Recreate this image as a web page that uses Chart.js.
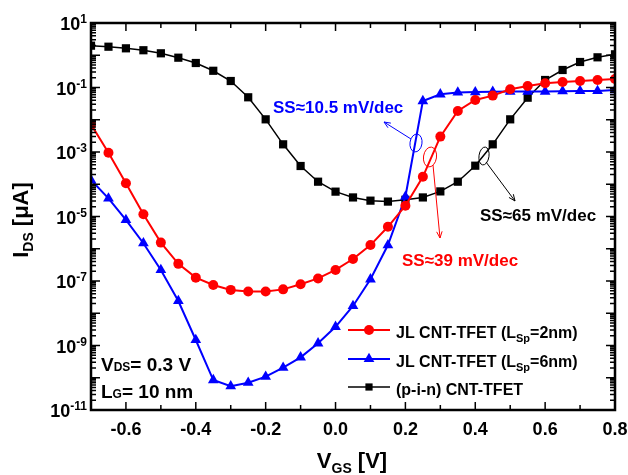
<!DOCTYPE html>
<html>
<head>
<meta charset="utf-8">
<script src="https://cdn.jsdelivr.net/npm/chart.js@4.4.0/dist/chart.umd.min.js"></script>
<style>
  html, body { margin: 0; padding: 0; background: #fff; }
  #wrap { width: 628px; height: 475px; }
</style>
</head>
<body>
<div id="wrap"><canvas id="c" width="628" height="475"></canvas></div>
<script>
// V_GS sweep (V)
const VGS = [-0.7, -0.65, -0.6, -0.55, -0.5, -0.45, -0.4, -0.35, -0.3, -0.25, -0.2, -0.15, -0.1, -0.05,
  0.0, 0.05, 0.1, 0.15, 0.2, 0.25, 0.3, 0.35, 0.4, 0.45, 0.5, 0.55, 0.6, 0.65, 0.7, 0.75, 0.8];

// I_DS (uA)
const ID_JL2 = [7.2e-3, 9.5e-4, 1.07e-4, 1.17e-5, 1.55e-6, 3.4e-7, 1.27e-7, 7.5e-8, 5.3e-8, 4.7e-8, 4.7e-8,
  5.5e-8, 7.9e-8, 1.2e-7, 2.2e-7, 4.8e-7, 1.3e-6, 4.8e-6, 2.16e-5, 1.7e-4, 3.0e-3, 1.87e-2, 4.1e-2, 5.6e-2,
  8.8e-2, 0.111, 0.135, 0.148, 0.159, 0.171, 0.184];
const ID_JL6 = [1.35e-4, 3.66e-5, 7.8e-6, 1.48e-6, 2.2e-7, 2.4e-8, 1.48e-9, 8.5e-11, 5.5e-11, 7.0e-11, 1.08e-10,
  2.05e-10, 4.3e-10, 1.17e-9, 3.8e-9, 1.68e-8, 1.13e-7, 1.3e-6, 4.1e-5, 3.8e-2, 6.15e-2, 0.070, 0.072, 0.074,
  0.075, 0.075, 0.075, 0.077, 0.078, 0.078, 0.083];
const ID_PIN = [1.98, 1.84, 1.64, 1.43, 1.15, 0.84, 0.575, 0.33, 0.159, 0.0497, 0.0103, 1.73e-3, 3.68e-4, 1.2e-4,
  5.9e-5, 3.9e-5, 3.1e-5, 2.9e-5, 3.3e-5, 3.9e-5, 6.0e-5, 1.2e-4, 3.76e-4, 1.73e-3, 1.03e-2, 4.83e-2, 0.171,
  0.349, 0.618, 0.863, 1.07];

const X_TICKS = [-0.6, -0.4, -0.2, 0.0, 0.2, 0.4, 0.6, 0.8];
const Y_LABEL_EXP = [1, -1, -3, -5, -7, -9, -11];

const RED = "#ff0000", BLUE = "#0000ff", BLACK = "#000000";
const FONT = "'Liberation Sans', Arial, sans-serif";

const pts = (ys) => VGS.map((v, i) => ({ x: v, y: ys[i] }));

// text made of pieces with different sizes / offsets (sub- and superscripts)
function rich(ctx, parts, x, y, align, color) {
  let w = 0;
  parts.forEach((p) => { ctx.font = "bold " + p.s + "px " + FONT; p.w = ctx.measureText(p.t).width; w += p.w; });
  let cx = align === "right" ? x - w : align === "center" ? x - w / 2 : x;
  ctx.textAlign = "left"; ctx.textBaseline = "alphabetic"; ctx.fillStyle = color || BLACK;
  parts.forEach((p) => { ctx.font = "bold " + p.s + "px " + FONT; ctx.fillText(p.t, cx, y + (p.dy || 0)); cx += p.w; });
}

function arrow(ctx, x1, y1, x2, y2, color) {
  const a = Math.atan2(y2 - y1, x2 - x1), h = 7, s = 0.4;
  ctx.strokeStyle = color; ctx.lineWidth = 1;
  ctx.beginPath(); ctx.moveTo(x1, y1); ctx.lineTo(x2, y2);
  ctx.moveTo(x2 - h * Math.cos(a - s), y2 - h * Math.sin(a - s)); ctx.lineTo(x2, y2);
  ctx.lineTo(x2 - h * Math.cos(a + s), y2 - h * Math.sin(a + s));
  ctx.stroke();
}

function ellipse(ctx, cx, cy, rx, ry, color) {
  ctx.strokeStyle = color; ctx.lineWidth = 1;
  ctx.beginPath(); ctx.ellipse(cx, cy, rx, ry, 0.15, 0, Math.PI * 2); ctx.stroke();
}

function marker(ctx, kind, x, y, color) {
  ctx.fillStyle = color;
  ctx.beginPath();
  if (kind === "circle") ctx.arc(x, y, 5, 0, Math.PI * 2);
  else if (kind === "triangle") { const r = 6.2; ctx.moveTo(x, y - r); ctx.lineTo(x + r * 0.866, y + r / 2); ctx.lineTo(x - r * 0.866, y + r / 2); ctx.closePath(); }
  else ctx.rect(x - 3.6, y - 3.6, 7.2, 7.2);
  ctx.fill();
}

const decor = {
  id: "decor",
  afterDatasetsDraw(chart) {
    const ctx = chart.ctx, a = chart.chartArea, xs = chart.scales.x, ys = chart.scales.y;
    ctx.save();

    // annotations: ellipses + arrows + SS texts
    ellipse(ctx, 416, 143, 6, 9, BLUE);
    arrow(ctx, 411, 139, 384, 122, BLUE);
    ellipse(ctx, 430, 157, 6.5, 10, RED);
    arrow(ctx, 433, 165, 440, 238, RED);
    ellipse(ctx, 484, 156, 5, 9, BLACK);
    arrow(ctx, 486, 162, 515, 201, BLACK);
    rich(ctx, [{ t: "SS\u224810.5 mV/dec", s: 17 }], 273, 113, "left", BLUE);
    rich(ctx, [{ t: "SS\u224839 mV/dec", s: 17 }], 402, 266, "left", RED);
    rich(ctx, [{ t: "SS\u224865 mV/dec", s: 17 }], 480, 221, "left", BLACK);

    // V_DS / L_G note
    rich(ctx, [{ t: "V", s: 19 }, { t: "DS", s: 12 }, { t: "= 0.3 V", s: 19 }], 101, 371, "left");
    rich(ctx, [{ t: "L", s: 19 }, { t: "G", s: 12 }, { t: "= 10 nm", s: 19 }], 101, 398, "left");

    // legend
    const LEG = [
      { c: RED, k: "circle", y: 330, parts: [{ t: "JL CNT-TFET (L", s: 16 }, { t: "Sp", s: 11, dy: 4 }, { t: "=2nm)", s: 16 }] },
      { c: BLUE, k: "triangle", y: 359, parts: [{ t: "JL CNT-TFET (L", s: 16 }, { t: "Sp", s: 11, dy: 4 }, { t: "=6nm)", s: 16 }] },
      { c: BLACK, k: "rect", y: 387, parts: [{ t: "(p-i-n) CNT-TFET", s: 16 }] },
    ];
    LEG.forEach((l) => {
      ctx.strokeStyle = l.c; ctx.lineWidth = l.c === BLACK ? 1.5 : 2;
      ctx.beginPath(); ctx.moveTo(348, l.y); ctx.lineTo(390, l.y); ctx.stroke();
      marker(ctx, l.k, 369, l.y, l.c);
      rich(ctx, l.parts, 396, l.y + 8, "left");
    });

    // frame
    ctx.strokeStyle = BLACK; ctx.lineWidth = 2.5;
    ctx.strokeRect(a.left, a.top, a.right - a.left, a.bottom - a.top);

    // inward ticks on all four sides
    ctx.lineWidth = 1.5;
    ctx.beginPath();
    for (let i = -6; i <= 8; i++) {
      const px = xs.getPixelForValue(i / 10), len = i % 2 === 0 ? 8 : 5;
      ctx.moveTo(px, a.bottom); ctx.lineTo(px, a.bottom - len);
      ctx.moveTo(px, a.top); ctx.lineTo(px, a.top + len);
    }
    for (let e = -11; e <= 1; e++) {
      const py = ys.getPixelForValue(Math.pow(10, e));
      ctx.moveTo(a.left, py); ctx.lineTo(a.left + 9, py);
      ctx.moveTo(a.right, py); ctx.lineTo(a.right - 9, py);
      if (e === 1) continue;
      for (let k = 2; k <= 9; k++) {
        const pm = ys.getPixelForValue(k * Math.pow(10, e));
        ctx.moveTo(a.left, pm); ctx.lineTo(a.left + 5, pm);
        ctx.moveTo(a.right, pm); ctx.lineTo(a.right - 5, pm);
      }
    }
    ctx.stroke();

    // tick labels
    X_TICKS.forEach((v) => {
      ctx.font = "bold 18px " + FONT; ctx.fillStyle = BLACK;
      ctx.textAlign = "center"; ctx.textBaseline = "alphabetic";
      ctx.fillText(v.toFixed(1), xs.getPixelForValue(v), 435);
    });
    Y_LABEL_EXP.forEach((e) => {
      const py = ys.getPixelForValue(Math.pow(10, e));
      rich(ctx, [{ t: "10", s: 18 }, { t: String(e), s: 12, dy: -7 }], 87, py + 7, "right");
    });

    // axis titles
    rich(ctx, [{ t: "V", s: 22 }, { t: "GS", s: 14, dy: 5 }, { t: " [V]", s: 22 }], 352, 468, "center");
    ctx.save();
    ctx.translate(28, 220); ctx.rotate(-Math.PI / 2);
    rich(ctx, [{ t: "I", s: 22 }, { t: "DS", s: 14, dy: 5 }, { t: " [\u03bcA]", s: 22 }], 0, 0, "center");
    ctx.restore();

    ctx.restore();
  },
};

new Chart(document.getElementById("c"), {
  type: "line",
  data: {
    datasets: [
      { label: "JL CNT-TFET (Lsp=2nm)", data: pts(ID_JL2), borderColor: RED, backgroundColor: RED, borderWidth: 2,
        pointStyle: "circle", pointRadius: 5, pointBorderWidth: 0, clip: 0 },
      { label: "JL CNT-TFET (Lsp=6nm)", data: pts(ID_JL6), borderColor: BLUE, backgroundColor: BLUE, borderWidth: 2,
        pointStyle: "triangle", pointRadius: 6.2, pointBorderWidth: 0, clip: 0 },
      { label: "(p-i-n) CNT-TFET", data: pts(ID_PIN), borderColor: BLACK, backgroundColor: BLACK, borderWidth: 1.5,
        pointStyle: "rect", pointRadius: 5.8, pointBorderWidth: 0, clip: 0 },
    ],
  },
  options: {
    responsive: false,
    animation: false,
    layout: { padding: { left: 0, top: 23, right: 13, bottom: 0 } },
    plugins: { legend: { display: false }, tooltip: { enabled: false } },
    scales: {
      x: {
        type: "linear", min: -0.7, max: 0.8,
        grid: { display: false, drawTicks: false }, border: { display: false },
        ticks: { display: false },
        afterFit: (s) => { s.height = 65; },
      },
      y: {
        type: "logarithmic", min: 1e-11, max: 10,
        grid: { display: false, drawTicks: false }, border: { display: false },
        ticks: { display: false },
        afterFit: (s) => { s.width = 91; },
      },
    },
  },
  plugins: [decor],
});
</script>
</body>
</html>
